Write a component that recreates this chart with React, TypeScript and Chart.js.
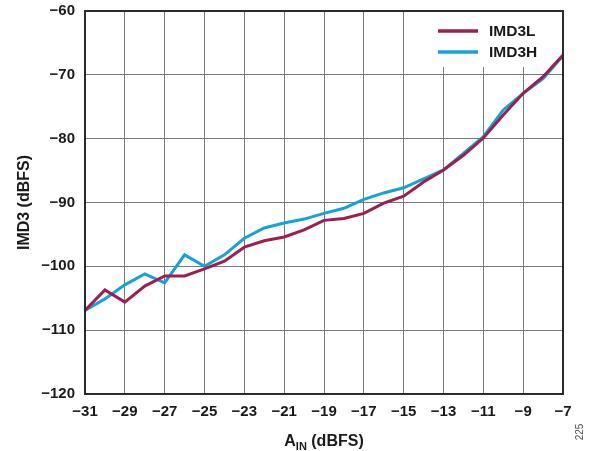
import React, { useEffect, useRef } from 'react';
import { Chart, registerables } from 'chart.js';

Chart.register(...registerables);

const AIN = [-31, -30, -29, -28, -27, -26, -25, -24, -23, -22, -21, -20, -19, -18, -17, -16, -15, -14, -13, -12, -11, -10, -9, -8, -7];
const IMD3L = [-106.9, -103.7, -105.6, -103.1, -101.5, -101.5, -100.4, -99.2, -97.0, -96.0, -95.4, -94.3, -92.8, -92.5, -91.7, -90.1, -89.0, -86.8, -84.9, -82.6, -79.9, -76.3, -72.9, -70.3, -66.9];
const IMD3H = [-106.9, -105.1, -102.9, -101.2, -102.6, -98.2, -100.0, -98.2, -95.6, -94.0, -93.2, -92.6, -91.7, -90.9, -89.5, -88.5, -87.7, -86.3, -84.9, -82.3, -79.7, -75.5, -72.9, -70.6, -67.0];
const SERIES_NAMES = ['IMD3L', 'IMD3H'];
const SERIES_COLORS = ['#9E1F4F', '#14A3D9'];
const X_MIN = -31;
const X_MAX = -7;
const X_STEP = 2;
const Y_MIN = -120;
const Y_MAX = -60;
const Y_STEP = 10;
const X_TITLE_MAIN = 'A';
const X_TITLE_SUB = 'IN';
const X_TITLE_REST = ' (dBFS)';
const Y_TITLE = 'IMD3 (dBFS)';
const FIG_ID = '225';

const FONT = 'Arial, "Liberation Sans", Helvetica, sans-serif';

const fmt = (v: number) => (v < 0 ? '\u2212' + Math.abs(v) : String(v));

const decorPlugin = {
  id: 'decor',
  beforeDatasetsDraw(chart: any) {
    const { ctx, chartArea } = chart;
    const bx = chartArea.right - 133;
    const by = chartArea.top + 1;
    ctx.save();
    ctx.fillStyle = '#ffffff';
    ctx.fillRect(bx, by, 132, 55);
    const datasets = chart.data.datasets;
    datasets.forEach((ds: any, i: number) => {
      const y = chartArea.top + 20 + i * 21;
      ctx.strokeStyle = ds.borderColor;
      ctx.lineWidth = 3.5;
      ctx.beginPath();
      ctx.moveTo(chartArea.right - 125, y);
      ctx.lineTo(chartArea.right - 85, y);
      ctx.stroke();
      ctx.fillStyle = '#1a1a1a';
      ctx.font = `bold 15.5px ${FONT}`;
      ctx.textAlign = 'left';
      ctx.textBaseline = 'middle';
      ctx.fillText(ds.label, chartArea.right - 74, y + 0.5);
    });
    ctx.restore();
  },
  afterDraw(chart: any) {
    const { ctx, chartArea } = chart;
    ctx.save();
    ctx.strokeStyle = '#2b2b2b';
    ctx.lineWidth = 2;
    ctx.strokeRect(chartArea.left, chartArea.top, chartArea.right - chartArea.left, chartArea.bottom - chartArea.top);
    ctx.fillStyle = '#1a1a1a';
    ctx.textBaseline = 'alphabetic';
    ctx.textAlign = 'left';
    const mainFont = `bold 16px ${FONT}`;
    const subFont = `bold 11px ${FONT}`;
    ctx.font = mainFont;
    const wA = ctx.measureText(X_TITLE_MAIN).width;
    const wR = ctx.measureText(X_TITLE_REST).width;
    ctx.font = subFont;
    const wS = ctx.measureText(X_TITLE_SUB).width;
    const total = wA + wS + wR;
    const cx = (chartArea.left + chartArea.right) / 2;
    let x = cx - total / 2;
    const base = 446;
    ctx.font = mainFont;
    ctx.fillText(X_TITLE_MAIN, x, base);
    x += wA;
    ctx.font = subFont;
    ctx.fillText(X_TITLE_SUB, x, base + 4);
    x += wS;
    ctx.font = mainFont;
    ctx.fillText(X_TITLE_REST, x, base);
    ctx.translate(580, 432);
    ctx.rotate(-Math.PI / 2);
    ctx.font = `10px ${FONT}`;
    ctx.fillStyle = '#555';
    ctx.textAlign = 'center';
    ctx.textBaseline = 'middle';
    ctx.fillText(FIG_ID, 0, 0);
    ctx.restore();
  },
};

export default function App() {
  const ref = useRef<HTMLCanvasElement>(null);
  useEffect(() => {
    document.body.style.margin = '0';
    const canvas = ref.current!;
    const chart = new Chart(canvas, {
      type: 'line',
      data: {
        datasets: [
          {
            label: SERIES_NAMES[0],
            data: AIN.map((x, i) => ({ x, y: IMD3L[i] })),
            borderColor: SERIES_COLORS[0],
            backgroundColor: SERIES_COLORS[0],
            borderWidth: 3,
            pointRadius: 0,
            tension: 0,
          },
          {
            label: SERIES_NAMES[1],
            data: AIN.map((x, i) => ({ x, y: IMD3H[i] })),
            borderColor: SERIES_COLORS[1],
            backgroundColor: SERIES_COLORS[1],
            borderWidth: 3,
            pointRadius: 0,
            tension: 0,
          },
        ],
      },
      options: {
        responsive: false,
        animation: false,
        events: [],
        layout: { padding: { top: 11, right: 28, left: 0, bottom: 0 } },
        plugins: {
          legend: { display: false },
          tooltip: { enabled: false },
        },
        scales: {
          x: {
            type: 'linear',
            min: X_MIN,
            max: X_MAX,
            afterFit: (s: any) => {
              s.height = 57;
              s.paddingLeft = 0;
              s.paddingRight = 0;
            },
            ticks: {
              stepSize: X_STEP,
              autoSkip: false,
              maxRotation: 0,
              padding: 9,
              color: '#1a1a1a',
              font: { family: FONT, size: 15, weight: 'bold' },
              callback: (v: any) => fmt(Number(v)),
            },
            grid: { color: '#7a7a7a', lineWidth: 1, drawTicks: false },
            border: { color: '#2b2b2b', width: 2 },
          },
          y: {
            min: Y_MIN,
            max: Y_MAX,
            afterFit: (s: any) => {
              s.width = 85;
              s.paddingTop = 0;
              s.paddingBottom = 0;
            },
            ticks: {
              stepSize: Y_STEP,
              padding: 10,
              color: '#1a1a1a',
              font: { family: FONT, size: 15, weight: 'bold' },
              callback: (v: any) => fmt(Number(v)),
            },
            grid: { color: '#7a7a7a', lineWidth: 1, drawTicks: false },
            border: { color: '#2b2b2b', width: 2 },
            title: {
              display: true,
              text: Y_TITLE,
              color: '#1a1a1a',
              font: { family: FONT, size: 16, weight: 'bold' },
              padding: { top: 15, bottom: 0 },
            },
          },
        },
      },
      plugins: [decorPlugin],
    });
    return () => chart.destroy();
  }, []);
  return (
    <canvas
      ref={ref}
      width={591}
      height={451}
      style={{ display: 'block', position: 'absolute', left: 0, top: 0, width: 591, height: 451 }}
    />
  );
}
